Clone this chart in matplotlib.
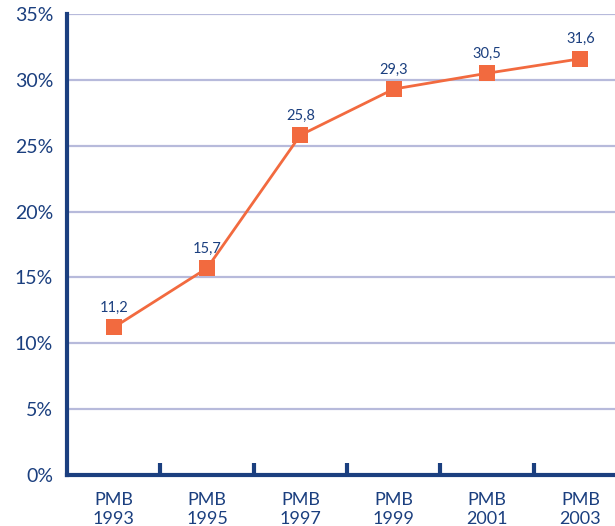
import matplotlib
matplotlib.use("Agg")
import matplotlib.pyplot as plt
from matplotlib.ticker import FixedLocator

years = ["1993", "1995", "1997", "1999", "2001", "2003"]
shares = [11.2, 15.7, 25.8, 29.3, 30.5, 31.6]
y_ticks = [0, 5, 10, 15, 20, 25, 30, 35]

navy = "#1b3f7f"
orange = "#f26a3f"
grid_col = "#b7badb"

plt.rcParams["font.family"] = ["Lato", "DejaVu Sans"]

fig = plt.figure(figsize=(6.15, 5.26), dpi=100)
ax = fig.add_axes([67 / 615, 51 / 526, 560 / 615, 461 / 526])

x = list(range(len(years)))
ax.plot(x, shares, color=orange, lw=2.0, marker="s", markersize=11.5,
        markeredgewidth=0, zorder=3, clip_on=False)

# value labels above each point, comma decimal
for xi, v in zip(x, shares):
    ax.annotate(f"{v:.1f}".replace(".", ","), (xi, v), xytext=(0, 9),
                textcoords="offset points", ha="center", va="bottom",
                fontsize=10.5, color=navy)

ax.set_xlim(-0.5, len(years) - 0.5)
ax.set_ylim(0, 35)
ax.set_yticks(y_ticks)
ax.set_yticklabels([f"{t}%" for t in y_ticks])
ax.yaxis.grid(True, color=grid_col, lw=1.6)
ax.set_axisbelow(True)

ax.set_xticks(x)
ax.set_xticklabels([f"PMB\n{y}" for y in years], linespacing=1.25)
ax.xaxis.set_minor_locator(FixedLocator([i + 0.5 for i in range(len(years) - 1)]))

ax.tick_params(axis="x", which="major", length=0, pad=12, labelsize=13,
               labelcolor=navy)
ax.tick_params(axis="x", which="minor", direction="in", length=9, width=3,
               color=navy)
ax.tick_params(axis="y", length=0, pad=10, labelsize=14, labelcolor=navy)

for side in ("top", "right"):
    ax.spines[side].set_visible(False)
for side in ("left", "bottom"):
    ax.spines[side].set_color(navy)
    ax.spines[side].set_linewidth(3)

fig.savefig("out.png", dpi=100)
